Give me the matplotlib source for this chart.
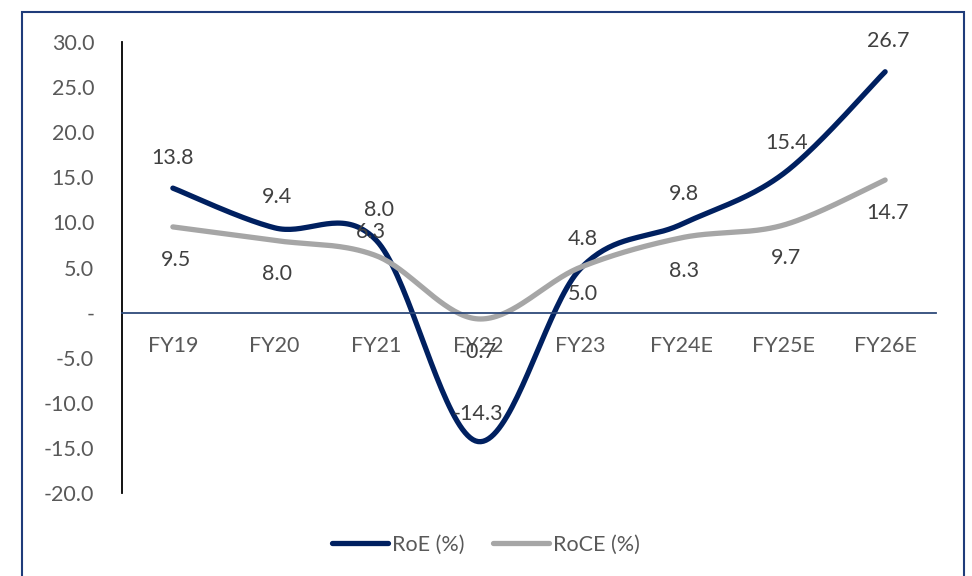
import numpy as np
import matplotlib
matplotlib.use("Agg")
import matplotlib.pyplot as plt
from matplotlib.patches import Rectangle

plt.rcParams['font.family'] = ['Lato', 'DejaVu Sans']

years = ["FY19", "FY20", "FY21", "FY22", "FY23", "FY24E", "FY25E", "FY26E"]
roe = [13.8, 9.4, 8.0, -14.3, 4.8, 9.8, 15.4, 26.7]
roce = [9.5, 8.0, 6.3, -0.7, 5.0, 8.3, 9.7, 14.7]

# label offsets in points (dx, dy)
roe_off = [(0, 22), (2, 22), (2, 22), (0, 20), (2, 22), (2, 22), (2, 22), (2, 22)]
roce_off = [(2, -24), (2, -24), (-4, 17), (0, -24), (2, -19), (2, -24), (2, -24), (2, -24)]

NAVY = "#002060"
GREY = "#A6A6A6"
TXT = "#404040"
FS = 15.5


def smooth(y, n=40):
    # Excel-style bezier smoothing through every point
    y = np.asarray(y, float)
    x = np.arange(len(y), dtype=float)
    pts = np.column_stack([x, y])
    ext = np.vstack([pts[0], pts, pts[-1]])
    out = []
    t = np.linspace(0, 1, n)[:, None]
    for i in range(len(pts) - 1):
        p0, p1, p2, p3 = ext[i], ext[i + 1], ext[i + 2], ext[i + 3]
        c1 = p1 + (p2 - p0) / 6
        c2 = p2 - (p3 - p1) / 6
        seg = ((1 - t) ** 3) * p1 + 3 * ((1 - t) ** 2) * t * c1 \
            + 3 * (1 - t) * t ** 2 * c2 + t ** 3 * p2
        out.append(seg if i == 0 else seg[1:])
    s = np.vstack(out)
    return s[:, 0], s[:, 1]


fig = plt.figure(figsize=(9.72, 5.76), dpi=100)
ax = fig.add_axes([122 / 972, 83 / 576, 814 / 972, 451 / 576])

fig.patches.append(Rectangle((22 / 972, -0.1), 942 / 972, 1.1 - 12 / 576,
                             transform=fig.transFigure, fill=False,
                             edgecolor="#1F3C7A", linewidth=1.5))

xs, ys = smooth(roe)
ax.plot(xs, ys, color=NAVY, lw=3.8, solid_capstyle='round', label="RoE (%)")
xs, ys = smooth(roce)
ax.plot(xs, ys, color=GREY, lw=3.8, solid_capstyle='round', label="RoCE (%)")

for i, v in enumerate(roe):
    ax.annotate(f"{v:.1f}", (i, v), xytext=roe_off[i], textcoords='offset points',
                ha='center', va='center', fontsize=FS, color=TXT)
for i, v in enumerate(roce):
    ax.annotate(f"{v:.1f}", (i, v), xytext=roce_off[i], textcoords='offset points',
                ha='center', va='center', fontsize=FS, color=TXT)

ax.set_xlim(-0.5, len(years) - 0.5)
ax.set_ylim(-20, 30)
yt = np.arange(-20, 31, 5)
ax.set_yticks(yt)
ax.set_yticklabels(["-" if v == 0 else f"{v:.1f}" for v in yt])
ax.set_xticks(range(len(years)))
ax.set_xticklabels(years)

ax.spines['top'].set_visible(False)
ax.spines['right'].set_visible(False)
ax.spines['bottom'].set_position(('data', 0))
ax.spines['bottom'].set_color("#2E4A7A")
ax.spines['bottom'].set_linewidth(1.3)
ax.spines['left'].set_color("black")
ax.spines['left'].set_linewidth(1.3)
ax.tick_params(axis='x', length=0, pad=17, labelsize=FS, labelcolor="#595959")
ax.tick_params(axis='y', length=0, pad=20, labelsize=FS, labelcolor="#595959")

fig.legend(loc='center', bbox_to_anchor=(0.5, 31 / 576), ncol=2,
           frameon=False, fontsize=FS, handlelength=2.6, handletextpad=0.2,
           columnspacing=1.3, labelcolor="#595959")

fig.savefig("out.png", dpi=100)
